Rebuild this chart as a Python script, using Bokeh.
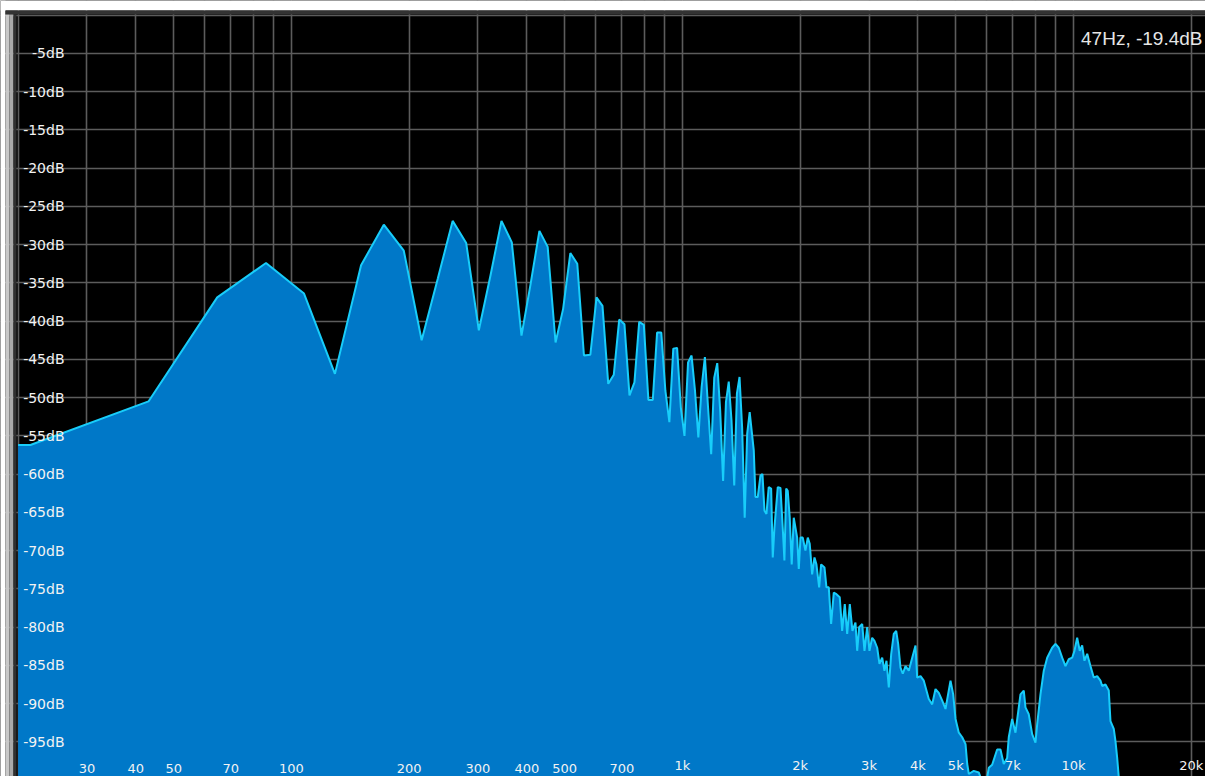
from bokeh.plotting import figure
from bokeh.models import Range1d, Grid, FixedTicker, BoxAnnotation, ColumnDataSource
from bokeh.core.properties import value
from bokeh.embed import file_html
from bokeh.resources import INLINE

# Spectrum: frequency (Hz) and level (dB)
freq_hz = [
    20.0, 21.5, 43.1, 64.6, 86.1, 107.7, 129.2, 150.7, 172.3, 193.8, 215.3,
    236.9, 258.4, 279.9, 301.5, 323.0, 344.5, 366.1, 387.6, 409.1, 430.7,
    452.2, 473.7, 495.3, 516.8, 538.3, 559.9, 581.4, 602.9, 624.5, 646.0,
    667.5, 689.1, 710.6, 732.1, 753.7, 775.2, 796.7, 818.3, 839.8, 861.3,
    882.9, 904.4, 925.9, 947.5, 969.0, 990.6, 1012.1, 1033.6, 1055.2, 1076.7,
    1098.2, 1119.7, 1141.3, 1162.8, 1184.3, 1205.9, 1227.4, 1248.9, 1270.5,
    1292.0, 1313.5, 1335.0, 1356.6, 1378.1, 1399.6, 1421.2, 1442.7, 1464.2,
    1485.8,
    1522, 1537, 1558, 1583, 1602, 1621, 1640, 1662, 1686, 1702, 1719, 1753,
    1781, 1805, 1823, 1842, 1859, 1881, 1903, 1926, 1965, 1984, 2004, 2031,
    2063, 2092, 2116, 2146, 2176, 2201, 2237, 2263, 2308, 2335, 2367, 2400,
    2438, 2477, 2525, 2561, 2601, 2638, 2679, 2721, 2770, 2798, 2831, 2882,
    2921, 2968, 3008, 3056, 3098, 3148, 3191, 3242, 3286, 3325, 3371, 3419,
    3471, 3521, 3562, 3611, 3660, 3719, 3792, 3869, 3945, 3984, 4063, 4142,
    4266, 4352, 4438, 4525, 4617, 4707, 4848, 4925, 4993, 5091, 5194, 5296,
    5349, 5400, 5559, 5725, 5783, 5956, 6073, 6195, 6380, 6506, 6633, 6767,
    6832, 6970, 7107, 7319, 7463, 7538, 7686, 7841, 7995, 8076, 8234, 8396,
    8566, 8822, 8995, 9171, 9357, 9541, 9728, 9924, 10059, 10220, 10378,
    10525, 10669, 10840, 11053, 11270, 11498, 11723, 11841, 12074, 12311,
    12435, 12679, 12806, 12935, 13057, 13190, 22050,
]
level_db = [
    -56.2, -56.2, -50.5, -36.9, -32.4, -36.4, -46.9, -32.7, -27.4, -30.8, -42.5,
    -34.4, -26.9, -29.8, -41.2, -34.0, -26.9, -29.7, -41.9, -35.1, -28.2,
    -30.3, -42.8, -38.4, -31.1, -32.5, -44.5, -44.4, -36.9, -38.0, -48.2,
    -47.0, -39.8, -40.4, -49.7, -48.0, -40.1, -40.5, -50.3, -50.3, -41.5,
    -41.5, -49.1, -53.2, -43.6, -43.5, -51.3, -55.0, -45.4, -44.5, -49.1,
    -55.2, -48.6, -44.7, -51.3, -57.4, -47.4, -45.5, -51.7, -60.9,
    -50.6, -47.9, -53.0, -61.5, -49.5, -47.3, -53.9, -65.7, -54.7,
    -51.9,
    -56.9, -63.0, -63.0, -60.2, -60.0, -64.8, -65.2, -61.7, -61.9, -70.9, -67.0, -61.7,
    -61.8, -67.0, -71.3, -61.9, -62.2, -65.7, -71.8, -65.7, -68.3, -72.4, -68.3, -68.3,
    -70.0, -68.3, -69.1, -73.1, -70.9, -71.8, -74.8, -71.8, -72.2, -74.8, -74.8, -79.6,
    -75.5, -75.7, -76.1, -80.5, -77.0, -80.9, -77.0, -80.5, -79.4, -83.1, -80.0, -79.6,
    -83.1, -80.0, -83.1, -81.4, -81.8, -82.7, -84.8, -84.0, -85.7, -84.4, -87.9, -83.5,
    -80.9, -80.5, -82.2, -85.3, -86.1, -85.1, -85.7, -84.0, -82.4, -86.6, -86.4, -87.0,
    -89.4, -90.1, -88.1, -88.6, -89.6, -90.7, -87.0, -88.8, -92.0, -93.8, -94.4, -95.3,
    -97.9, -99.2, -98.8, -99.0, -99.6, -101.0, -98.4, -98.0, -96.0, -96.0, -97.9, -97.1,
    -94.4, -92.0, -93.8, -88.8, -88.3, -90.5, -91.4, -94.0, -95.1, -92.7, -88.8, -85.7,
    -84.0, -82.7, -82.2, -82.7, -84.0, -85.1, -84.2, -84.0, -83.1, -81.4, -83.1,
    -82.4, -84.4, -83.5, -85.1, -86.6, -86.4, -87.0, -87.7, -87.5, -88.3,
    -92.3, -93.3, -94.9, -97.1, -99.6, -112.0, -112.0,
]

# Grid positions
grid_freqs = [20, 30, 40, 50, 60, 70, 80, 90, 100, 200, 300, 400, 500, 600,
              700, 800, 900, 1000, 2000, 3000, 4000, 5000, 6000, 7000, 8000,
              9000, 10000, 20000]
grid_db = [0, -5, -10, -15, -20, -25, -30, -35, -40, -45, -50, -55, -60,
           -65, -70, -75, -80, -85, -90, -95]

# Tick labels
freq_tick_values = [30, 40, 50, 70, 100, 200, 300, 400, 500, 700, 1000, 2000,
                    3000, 4000, 5000, 7000, 10000, 20000]
freq_tick_labels = ["30", "40", "50", "70", "100", "200", "300", "400", "500",
                    "700", "1k", "2k", "3k", "4k", "5k", "7k", "10k", "20k"]
db_tick_values = [-5, -10, -15, -20, -25, -30, -35, -40, -45, -50, -55, -60,
                  -65, -70, -75, -80, -85, -90, -95]
db_tick_labels = ["-5dB", "-10dB", "-15dB", "-20dB", "-25dB", "-30dB", "-35dB",
                  "-40dB", "-45dB", "-50dB", "-55dB", "-60dB", "-65dB", "-70dB",
                  "-75dB", "-80dB", "-85dB", "-90dB", "-95dB"]
readout_text = "47Hz, -19.4dB"

X_START, X_END = 18.03, 21760.0
Y_START, Y_END = -99.53, 1.91

p = figure(
    width=1205, height=776,
    x_axis_type="log",
    x_range=Range1d(X_START, X_END), y_range=Range1d(Y_START, Y_END),
    x_axis_location=None, y_axis_location=None,
    toolbar_location=None, output_backend="svg",
    min_border=0, title=None,
    background_fill_color="#000000", border_fill_color="#ffffff",
    outline_line_color=None,
)

grid_style = dict(grid_line_color="#5c5c5c", grid_line_width=1.6)
p.add_layout(Grid(dimension=0, ticker=FixedTicker(ticks=grid_freqs), **grid_style), "center")
p.add_layout(Grid(dimension=1, ticker=FixedTicker(ticks=grid_db), **grid_style), "center")

src = ColumnDataSource(data=dict(f=freq_hz, db=level_db))
p.varea(x="f", y1=-130, y2="db", source=src, fill_color="#0078c8")
p.line(x="f", y="db", source=src, line_color="#18cdfa", line_width=2)

label_font = value("DejaVu Sans")
p.text(x=[X_START] * len(db_tick_values), y=db_tick_values, text=db_tick_labels,
       x_offset=64, text_align="right", text_baseline="middle",
       text_font=label_font, text_font_size="14px", text_color="#f2f2f2")
p.text(x=freq_tick_values, y=[Y_START] * len(freq_tick_values), text=freq_tick_labels,
       y_offset=-4, text_align="center", text_baseline="bottom",
       text_font=label_font, text_font_size="13px", text_color="#f2f2f2")
p.text(x=[X_END], y=[Y_END], text=[readout_text],
       x_offset=-3, y_offset=27, text_align="right", text_baseline="top",
       text_font=value("Liberation Sans"), text_font_size="19px", text_color="#e6e6e6")

# Window frame: white margin, dark top rule and bevelled left edge
def frame_box(l, r, t, b, color):
    return BoxAnnotation(left=l, right=r, top=t, bottom=b,
                         left_units="canvas", right_units="canvas",
                         top_units="canvas", bottom_units="canvas",
                         fill_color=color, fill_alpha=1.0, line_color=None)

p.add_layout(frame_box(0, 1205, 0, 10, "#ffffff"))
p.add_layout(frame_box(0, 5, 0, 776, "#ffffff"))
p.add_layout(frame_box(5, 1205, 10, 14, "#333333"))
p.add_layout(frame_box(5, 9, 14, 776, "#c8c8c8"))
p.add_layout(frame_box(9, 13, 14, 776, "#a9a9a9"))
p.add_layout(frame_box(13, 16, 14, 776, "#303030"))

open("out.html", "w").write(file_html(p, INLINE))
